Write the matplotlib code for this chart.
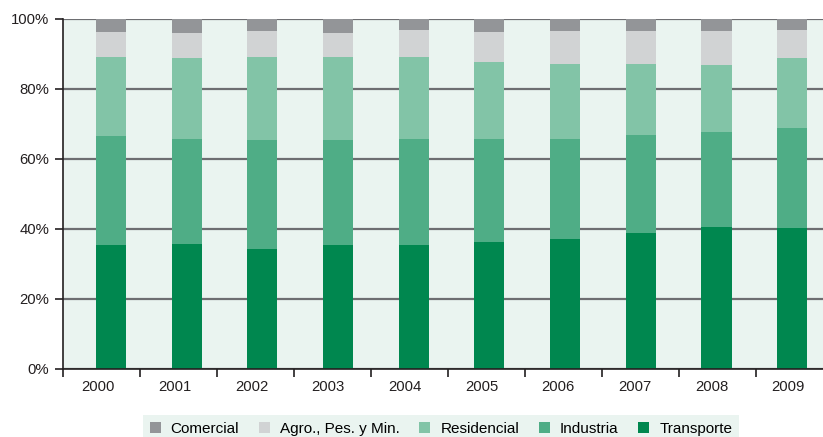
import matplotlib
matplotlib.use("Agg")
import matplotlib.pyplot as plt
from matplotlib.patches import Patch
import numpy as np

plt.rcParams['font.family'] = ['Liberation Sans', 'DejaVu Sans']

years = ['2000', '2001', '2002', '2003', '2004', '2005', '2006', '2007', '2008', '2009']
transporte = [35.4, 35.7, 34.3, 35.4, 35.4, 36.3, 37.1, 38.9, 40.6, 40.3]
industria = [31.2, 30.0, 31.1, 30.0, 30.3, 29.4, 28.6, 28.0, 27.1, 28.6]
residencial = [22.5, 23.2, 23.7, 23.7, 23.4, 22.0, 21.4, 20.2, 19.2, 20.0]
agro = [7.2, 7.1, 7.5, 6.9, 7.8, 8.6, 9.5, 9.5, 9.7, 8.0]
comercial = [3.7, 4.0, 3.4, 4.0, 3.1, 3.7, 3.4, 3.4, 3.4, 3.1]

series = [
    ('Transporte', transporte, '#00874f'),
    ('Industria', industria, '#4fad86'),
    ('Residencial', residencial, '#82c4a7'),
    ('Agro., Pes. y Min.', agro, '#d1d3d4'),
    ('Comercial', comercial, '#939598'),
]

W, H = 823, 437
fig = plt.figure(figsize=(W / 100, H / 100), dpi=100)
# axes extends slightly past the right edge of the figure (cropped like the reference)
ax = fig.add_axes([63 / W, (H - 369) / H, 770 / W, (369 - 19) / H])
ax.set_facecolor('#eaf4f0')

n = len(years)
idx = np.arange(n)
bar_x = idx * 0.983 + 0.123
label_x = idx * 0.996 - 0.045

bottom = np.zeros(n)
for name, vals, col in series:
    ax.bar(bar_x, vals, bottom=bottom, width=0.39, color=col, zorder=3, linewidth=0)
    bottom += np.array(vals)

ax.set_xlim(-0.5, n - 0.5)
ax.set_ylim(0, 100)
ax.set_yticks([0, 20, 40, 60, 80, 100])
ax.set_yticklabels(['0%', '20%', '40%', '60%', '80%', '100%'], fontsize=10.7, color='#231f20')
ax.yaxis.grid(True, color='#6d6e71', linewidth=1.6, zorder=1)
ax.set_axisbelow(True)
ax.tick_params(axis='y', length=6, width=1.2, color='#231f20', pad=4)

ax.set_xticks(label_x)
ax.set_xticklabels(years, fontsize=10.7, color='#231f20')
ax.tick_params(axis='x', length=0, pad=8)
ax.set_xticks(np.arange(-0.5, n, 1), minor=True)
ax.tick_params(axis='x', which='minor', length=6, width=1.2, color='#231f20')

for s in ['top', 'right']:
    ax.spines[s].set_visible(False)
ax.spines['left'].set_color('#231f20')
ax.spines['left'].set_linewidth(1.2)
ax.spines['bottom'].set_color('#231f20')
ax.spines['bottom'].set_linewidth(1.2)
ax.spines['bottom'].set_zorder(4)

order = [4, 3, 2, 1, 0]
handles = [Patch(facecolor=series[i][2], edgecolor='none', label=series[i][0]) for i in order]
leg = fig.legend(handles=handles, loc='upper center', bbox_to_anchor=(441 / W, (H - 415) / H),
                 ncol=5, frameon=True, fontsize=11, handlelength=0.72, handleheight=0.72,
                 handletextpad=0.65, columnspacing=1.3, borderpad=0.45, borderaxespad=0,
                 fancybox=False)
leg.get_frame().set_facecolor('#eaf4f0')
leg.get_frame().set_edgecolor('none')
leg.get_frame().set_alpha(1)

fig.savefig('out.png', dpi=100)
